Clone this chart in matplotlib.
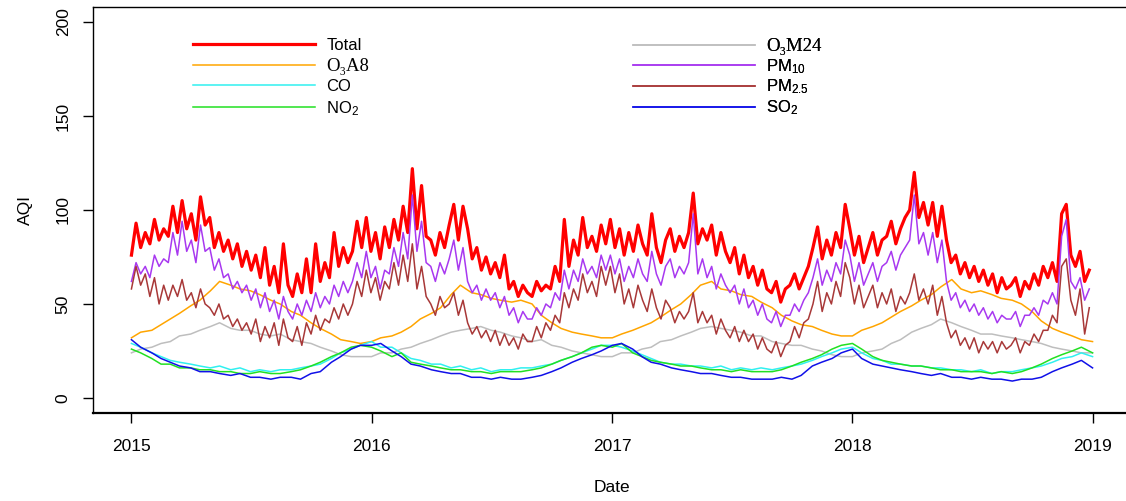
import matplotlib
matplotlib.use('agg')
import matplotlib.pyplot as plt
import matplotlib.dates as mdates
import numpy as np
import pandas as pd

plt.rcParams['font.family'] = ['Liberation Sans', 'DejaVu Sans']
plt.rcParams['mathtext.fontset'] = 'custom'
plt.rcParams['mathtext.rm'] = 'Liberation Sans'
plt.rcParams['mathtext.it'] = 'Liberation Sans:italic'
plt.rcParams['mathtext.bf'] = 'Liberation Sans:bold'

# valeurs hebdomadaires, 2015 -> fin 2018
total = [
    76, 93, 80, 88, 82, 95, 84, 90, 86, 102, 88, 105, 90, 98, 84, 107, 92, 96, 80, 88, 78,
    84, 74, 82, 70, 78, 68, 76, 64, 80, 60, 70, 56, 82, 60, 54, 66, 56, 74, 56, 82, 62, 72,
    64, 88, 70, 80, 72, 78, 94, 80, 96,
    78, 88, 74, 91, 80, 95, 84, 102, 88, 122, 90, 113, 86, 84, 76, 88, 80, 92, 103, 84, 102,
    90, 74, 80, 68, 75, 66, 72, 64, 76, 58, 62, 54, 60, 56, 54, 62, 57, 60, 58, 70, 62, 95,
    70, 84, 76, 96, 80, 86, 78, 92, 82,
    95, 80, 90, 76, 88, 78, 92, 82, 76, 98, 80, 72, 84, 90, 78, 86, 80, 88, 109, 82, 90,
    84, 92, 76, 88, 78, 72, 80, 66, 76, 64, 70, 60, 68, 58, 56, 62, 51, 58, 60, 66, 58, 64,
    70, 80, 91, 74, 84, 76, 88, 80, 103,
    90, 76, 86, 72, 80, 88, 76, 84, 86, 94, 82, 90, 96, 100, 120, 96, 104, 92, 104, 86, 102,
    84, 72, 76, 66, 72, 64, 70, 62, 68, 60, 66, 56, 64, 58, 60, 64, 54, 62, 58, 66, 60, 70,
    64, 72, 62, 98, 103, 76, 70, 78, 62,
    68]
pm10 = [
    62, 72, 66, 70, 64, 76, 70, 74, 72, 88, 76, 94, 78, 84, 72, 92, 78, 80, 68, 74, 64,
    66, 58, 62, 56, 60, 52, 58, 48, 56, 46, 52, 42, 54, 46, 42, 50, 44, 52, 46, 56, 48, 54,
    50, 60, 54, 62, 56, 62, 72, 64, 78,
    64, 70, 58, 68, 66, 80, 70, 88, 74, 108, 78, 94, 72, 70, 62, 72, 66, 74, 84, 68, 80,
    62, 56, 60, 52, 58, 52, 56, 48, 54, 44, 48, 40, 46, 42, 42, 48, 44, 50, 48, 56, 52, 68,
    58, 68, 62, 74, 66, 70, 64, 76, 68,
    76, 66, 74, 62, 70, 64, 74, 66, 62, 78, 66, 60, 70, 74, 64, 70, 66, 72, 98, 66, 74,
    64, 70, 58, 66, 60, 56, 60, 50, 58, 48, 52, 44, 50, 42, 40, 46, 38, 44, 44, 50, 46, 52,
    56, 64, 74, 60, 68, 62, 72, 66, 84,
    76, 62, 72, 60, 66, 72, 62, 70, 72, 78, 68, 76, 80, 84, 108, 82, 88, 76, 88, 72, 84,
    62, 52, 56, 48, 52, 46, 50, 44, 48, 42, 46, 40, 44, 42, 42, 46, 38, 44, 44, 48, 44, 52,
    50, 56, 50, 86, 95, 62, 58, 64, 52,
    58]
pm25 = [
    58, 70, 60, 66, 54, 64, 50, 60, 52, 60, 54, 63, 52, 56, 48, 58, 50, 48, 44, 50, 42,
    44, 38, 42, 36, 40, 34, 42, 30, 38, 32, 40, 28, 42, 32, 30, 38, 28, 40, 34, 44, 36, 42,
    40, 48, 42, 50, 44, 50, 62, 54, 68,
    56, 64, 52, 62, 58, 72, 60, 76, 62, 82, 58, 70, 54, 50, 44, 54, 48, 50, 56, 44, 52,
    40, 34, 38, 32, 36, 30, 36, 28, 34, 28, 32, 26, 34, 30, 30, 38, 32, 40, 36, 44, 40, 56,
    48, 58, 52, 66, 56, 62, 54, 70, 60,
    70, 56, 66, 50, 58, 48, 60, 52, 46, 58, 48, 42, 52, 48, 40, 46, 42, 46, 56, 40, 46,
    40, 44, 34, 42, 36, 32, 38, 30, 36, 30, 34, 26, 32, 26, 24, 30, 22, 28, 30, 38, 32, 40,
    42, 50, 62, 46, 56, 50, 62, 54, 72,
    64, 50, 60, 48, 54, 60, 48, 56, 50, 58, 46, 54, 50, 56, 66, 52, 58, 50, 60, 44, 54,
    40, 32, 36, 28, 32, 26, 32, 24, 30, 26, 30, 24, 30, 26, 28, 32, 24, 30, 28, 34, 30, 36,
    36, 44, 40, 70, 74, 52, 44, 58, 34,
    48]

# valeurs bimensuelles (1er et 15 du mois) pour les courbes plus lisses
o3a8 = [32, 35, 36, 39, 42, 45, 49, 52, 57, 62, 60, 58, 57, 55, 52, 50, 46, 44, 40, 37, 34, 31, 30, 29,
        30, 32, 33, 35, 38, 42, 45, 48, 55, 60, 56, 55, 53, 52, 51, 52, 50, 44, 40, 37, 35, 34, 33, 32,
        32, 34, 36, 38, 40, 43, 47, 50, 55, 60, 62, 58, 57, 55, 54, 51, 48, 44, 41, 39, 38, 36, 34, 33,
        33, 36, 38, 40, 43, 46, 49, 52, 55, 59, 63, 58, 56, 57, 55, 53, 52, 50, 46, 41, 37, 35, 33, 31,
        30]
o3m24 = [24, 26, 27, 29, 30, 33, 34, 36, 38, 40, 37, 36, 36, 34, 33, 34, 31, 30, 29, 27, 25, 23, 22, 22,
         22, 24, 24, 26, 27, 29, 31, 33, 35, 36, 37, 38, 36, 35, 33, 32, 30, 31, 28, 27, 25, 24, 23, 22,
         22, 24, 24, 26, 27, 30, 31, 33, 35, 37, 38, 37, 36, 35, 33, 33, 30, 29, 28, 28, 26, 25, 23, 22,
         22, 24, 25, 26, 29, 31, 35, 37, 39, 42, 40, 38, 36, 34, 34, 33, 32, 31, 30, 29, 27, 26, 25, 24,
         24]
co = [29, 27, 24, 22, 20, 19, 18, 17, 16, 17, 15, 16, 14, 15, 14, 15, 15, 16, 17, 18, 21, 24, 26, 28,
      30, 27, 27, 24, 21, 20, 18, 18, 16, 17, 15, 16, 14, 15, 15, 16, 16, 17, 18, 20, 22, 24, 26, 28,
      28, 27, 25, 23, 21, 19, 18, 18, 17, 17, 16, 17, 15, 16, 15, 16, 15, 16, 17, 18, 20, 22, 24, 26,
      27, 24, 21, 20, 18, 18, 17, 17, 16, 16, 15, 15, 14, 15, 13, 14, 14, 15, 16, 17, 19, 21, 22, 24,
      22]
no2 = [26, 24, 21, 18, 18, 16, 16, 15, 15, 14, 14, 13, 13, 14, 13, 13, 14, 15, 17, 19, 22, 24, 27, 28,
       27, 25, 22, 24, 19, 18, 17, 16, 15, 15, 14, 14, 13, 14, 14, 14, 15, 16, 18, 20, 22, 24, 27, 28,
       27, 29, 24, 22, 20, 19, 18, 17, 17, 16, 15, 15, 14, 15, 14, 14, 14, 15, 17, 19, 21, 23, 26, 28,
       29, 26, 22, 20, 19, 18, 17, 17, 16, 15, 15, 14, 14, 14, 13, 14, 13, 14, 16, 18, 21, 23, 25, 27,
       24]
so2 = [31, 27, 24, 21, 19, 17, 16, 14, 14, 13, 12, 13, 11, 11, 10, 11, 11, 10, 13, 14, 19, 22, 26, 28,
       28, 29, 25, 22, 18, 17, 15, 14, 13, 13, 11, 11, 10, 11, 10, 10, 11, 12, 14, 16, 19, 21, 23, 25,
       28, 29, 26, 22, 19, 18, 16, 15, 14, 13, 13, 12, 11, 11, 10, 10, 10, 11, 10, 12, 17, 19, 21, 24,
       26, 21, 18, 17, 16, 15, 14, 13, 12, 13, 11, 11, 10, 11, 10, 10, 9, 10, 10, 11, 14, 16, 18, 20,
       16]

jours = pd.date_range('2015-01-01', periods=len(total), freq='7D')
demi = pd.date_range('2015-01-01', periods=len(o3a8), freq='SMS')
annees = ['2015', '2016', '2017', '2018', '2019']

fig = plt.figure(figsize=(11.26, 5.01), dpi=100)
ax = fig.add_axes([93/1126, 88/501, 1038/1126, 406/501])

series = [
    (jours, total, 'Total', 'red', 2.3),
    (demi, o3a8, 'O₃A8', 'orange', 1.1),
    (demi, o3m24, 'O₃M24', '#bebebe', 1.1),
    (demi, co, 'CO', '#30f0f0', 1.1),
    (demi, no2, 'NO$_2$', '#22e022', 1.1),
    (jours, pm10, 'PM$_{10}$', '#a838f0', 1.1),
    (jours, pm25, 'PM$_{2.5}$', '#a83838', 1.1),
    (demi, so2, 'SO$_2$', '#1010e8', 1.1),
]
lignes = {}
for x, y, nom, c, lw in series:
    l, = ax.plot(x, y, color=c, lw=lw)
    lignes[nom] = l

# limites a la R (4% de marge)
d0 = mdates.date2num(pd.Timestamp('2015-01-01'))
d1 = mdates.date2num(pd.Timestamp('2019-01-01'))
m = 0.04 * (d1 - d0)
ax.set_xlim(d0 - m, d1 + m)
ax.set_ylim(-8, 208)

ax.set_xticks([mdates.date2num(pd.Timestamp(a + '-01-01')) for a in annees])
ax.set_xticklabels(annees)
ax.set_yticks([0, 50, 100, 150, 200])
ax.set_yticklabels(['0', '50', '100', '150', '200'], rotation=90, va='center')
ax.tick_params(axis='both', length=7, width=1, labelsize=12.5)
ax.tick_params(axis='y', pad=9)
ax.tick_params(axis='x', pad=12)
for s in ax.spines.values():
    s.set_linewidth(1.0)
ax.spines['bottom'].set_linewidth(1.6)

fig.text(25/1126, 1 - 210/501, 'AQI', rotation=90, ha='center', va='center', fontsize=12.5)
fig.text(612/1126, 1 - 487/501, 'Date', ha='center', va='center', fontsize=12.5)

# legende en deux colonnes sans cadre
gauche = ['Total', 'O₃A8', 'CO', 'NO$_2$']
droite = ['O₃M24', 'PM$_{10}$', 'PM$_{2.5}$', 'SO$_2$']
for noms, x0, esp in [(gauche, (193-93)/1038, 0.28), (droite, (633-93)/1038, 0.12)]:
    leg = ax.legend([lignes[n] for n in noms], noms, loc='upper left',
                    bbox_to_anchor=(x0, 1 - (38-7)/406), frameon=False,
                    fontsize=12, handlelength=7.3, handletextpad=0.7,
                    labelspacing=esp, borderpad=0, borderaxespad=0)
    for t in leg.get_texts():
        if 'O₃' in t.get_text():
            t.set_fontfamily(['Liberation Serif', 'DejaVu Serif'])
            t.set_fontsize(13.5)
    ax.add_artist(leg)

fig.savefig('out.png', dpi=100)
